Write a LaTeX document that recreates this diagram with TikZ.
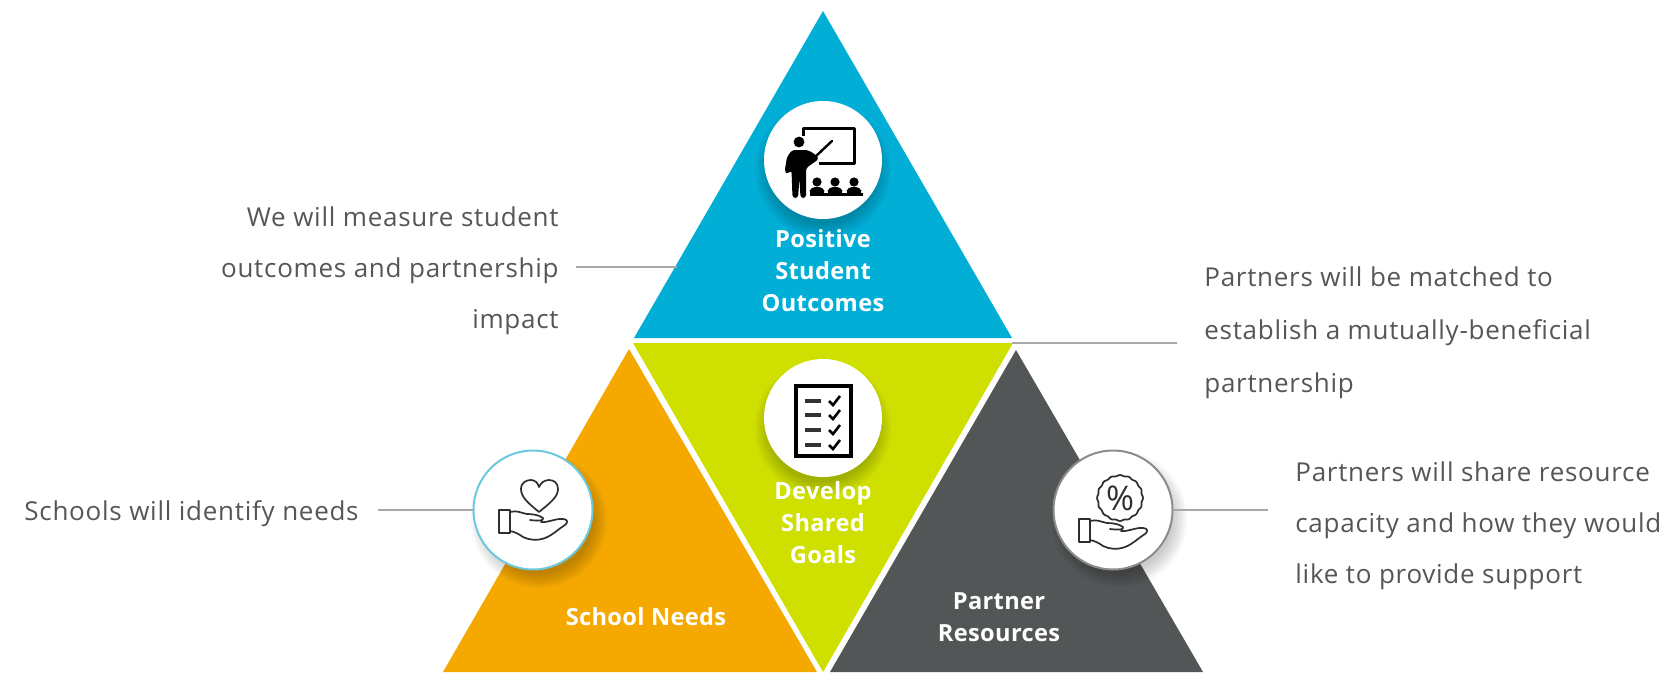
\documentclass[tikz,border=0pt]{standalone}
\usepackage{fontspec}
\setmainfont{Open Sans}
\newfontfamily\bodyfont[LetterSpace=2.8]{Open Sans}
\newfontfamily\labelfont[LetterSpace=1.5]{Open Sans}
\definecolor{tblue}{HTML}{00AED6}
\definecolor{tgreen}{HTML}{CFE000}
\definecolor{torange}{HTML}{F4A800}
\definecolor{tgray}{HTML}{535657}
\definecolor{ringblue}{HTML}{6CC8DC}
\definecolor{ringgray}{HTML}{8C8C8C}
\definecolor{txt}{HTML}{55565A}
\definecolor{linegray}{HTML}{A8A8A8}
\definecolor{iconline}{HTML}{2E2E2E}
\tikzset{
  disc/.style={circle,fill=white,minimum size=59pt,inner sep=0pt},
  ringdisc/.style={disc,minimum size=59.5pt,draw=#1,line width=1pt},
  body/.style={font=\bodyfont\fontsize{13}{25.5}\selectfont,text=txt,inner sep=0pt},
  bodywide/.style={font=\bodyfont\fontsize{13}{26.5}\selectfont,text=txt,inner sep=0pt},
  lbl/.style={font=\labelfont\bfseries\fontsize{11.8}{16}\selectfont,text=white,align=center,inner sep=0pt},
  leader/.style={draw=linegray,line width=1pt},
  iconstroke/.style={draw=iconline,line width=0.85pt,line join=round,line cap=round},
}
\newcommand{\softshadow}[2]{%
  \foreach \rr in {68,66,...,54}{\fill[black,opacity=0.028] (#1,#2) circle[radius=\rr];}}
\newcommand{\handicon}[2]{%
  \begin{scope}[shift={(#1,#2)}]
    \draw[iconstroke] (0,0) rectangle (11,23);
    \draw[iconstroke] (11,2) .. controls (18,0) and (22,3) .. (28,4) .. controls (34,4) and (40,5) .. (44,8)
      .. controls (45,11) and (40,11) .. (31,10);
    \draw[iconstroke] (42,12) .. controls (48,13) and (58,8) .. (64,9) .. controls (69,9) and (69,13) .. (66,15)
      .. controls (58,20) and (54,25) .. (46,28) .. controls (38,31) and (30,30) .. (24,27)
      .. controls (20,24) and (16,22) .. (11,21);
  \end{scope}}
\begin{document}
\begin{tikzpicture}[x=0.5pt,y=-0.5pt]
\useasboundingbox (0,0) rectangle (1680,685);
% triangles
\fill[tblue] (823,11) -- (1012,338) -- (634,338) -- cycle;
\fill[tgreen] (633,343) -- (1013,343) -- (823,672) -- cycle;
\fill[torange] (629,349) -- (817,672) -- (443,672) -- cycle;
\fill[tgray] (1016,350) -- (1203,672) -- (830,672) -- cycle;
% shadows and discs
\softshadow{823}{170}
\softshadow{823}{428}
\softshadow{539}{520}
\softshadow{1119}{519}
\node[disc] (c1) at (823,160) {};
\node[disc] (c2) at (823,418) {};
\node[ringdisc=ringblue] (c3) at (533,510) {};
\node[ringdisc=ringgray] (c4) at (1113,510) {};
% teacher icon
\draw[black,line width=1.5pt,line join=round] (803,136) -- (803,128) -- (854,128) -- (854,163) -- (819,163);
\draw[black,line width=1.2pt,line cap=round] (815,157) -- (832,141);
\fill[black] (799,142) circle[radius=5.4];
\fill[black,rounded corners=1.5] (792,150) -- (808,150) -- (816,155) -- (819,159) -- (806,168) -- (806,198) -- (800.5,198) -- (799.5,178) -- (798,198) -- (792.5,198) -- (791.5,170) -- (788,174) -- (784.5,172) -- (787,157) -- cycle;
\foreach \hx in {817,835,854}{
  \fill[black] (\hx,182) circle[radius=4.6];
  \fill[black,rounded corners=2] (\hx-8.5,194) -- (\hx-6,187) -- (\hx+6,187) -- (\hx+8.5,194) -- cycle;
}
\fill[black] (810,193) rectangle (863,196);
% checklist icon
\draw[black,line width=2.1pt,line join=miter] (796,386) rectangle (851,456);
\foreach \ly in {401,415,430,445}{
  \draw[black!80,line width=1.8pt] (805,\ly) -- (821,\ly);
  \draw[black,line width=1.3pt] (829,\ly) -- (833,\ly+4) -- (840,\ly-5);
}
% heart in hand
\draw[iconstroke] (539,512) .. controls (528,503) and (521,497) .. (521,489) .. controls (521,482) and (527,480) .. (531,480)
  .. controls (535,480) and (538,483) .. (539,487) .. controls (541,483) and (544,480) .. (549,480)
  .. controls (554,480) and (558,483) .. (558,489) .. controls (558,497) and (550,503) .. (539,512) -- cycle;
\handicon{499}{510}
% percent in hand
\draw[iconstroke,smooth,samples=97,domain=0:360] plot ({1120+(22.5+0.5*cos(16*\x))*cos(\x)},{498+(22.5+0.5*cos(16*\x))*sin(\x)});
\node[inner sep=0pt,text=iconline,font=\fontsize{17}{17}\selectfont] (pct) at (1120,498) {\%};
\handicon{1079}{519}
% leaders
\coordinate (l1a) at (576,267);
\coordinate (l1b) at (677,267);
\coordinate (l2a) at (1012,343);
\coordinate (l2b) at (1177,343);
\coordinate (l3a) at (378,510);
\coordinate (l4b) at (1268,510);
\draw[leader] (l1a) -- (l1b);
\draw[leader] (l2a) -- (l2b);
\draw[leader] (l3a) -- (c3.west);
\draw[leader] (c4.east) -- (l4b);
% triangle labels
\node[lbl] (t1) at (823,271) {Positive\\Student\\Outcomes};
\node[lbl] (t2) at (823,523) {Develop\\Shared\\Goals};
\node[lbl] (t3) at (646,617) {School Needs};
\node[lbl] (t4) at (999,617) {Partner\\Resources};
% descriptions
\node[body,anchor=east,align=right] (d1) at (559,271) {We will measure student\\outcomes and partnership\\impact};
\node[bodywide,anchor=west,align=left] (d2) at (1204,333) {Partners will be matched to\\establish a mutually-beneficial\\partnership};
\node[body,anchor=east,align=right] (d3) at (359,514) {Schools will identify needs};
\node[body,anchor=west,align=left] (d4) at (1295,526) {Partners will share resource\\capacity and how they would\\like to provide support};
\end{tikzpicture}
\end{document}
